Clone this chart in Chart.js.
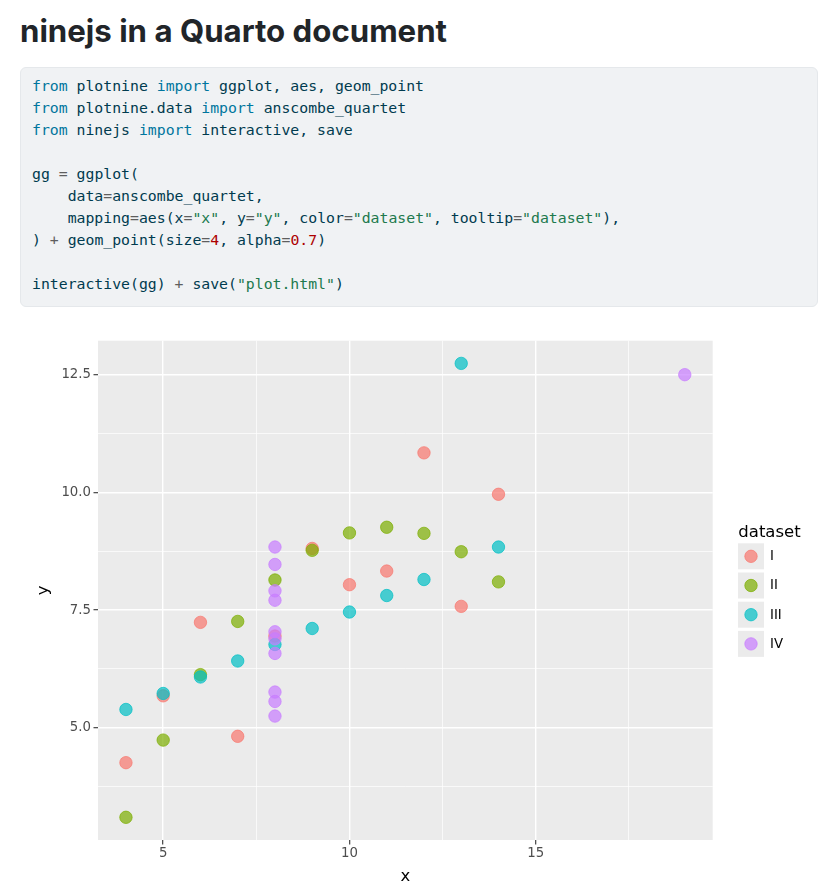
<!DOCTYPE html>
<html>
<head>
<meta charset="utf-8">
<title>ninejs in a Quarto document</title>
<script src="https://cdn.jsdelivr.net/npm/chart.js@4.4.1/dist/chart.umd.min.js"></script>
<style>
  html, body { margin: 0; padding: 0; background: #fff; overflow: hidden; }
  body { width: 839px; height: 894px; position: relative; }
  h1 {
    position: absolute; left: 20px; top: 15.5px; margin: 0;
    font: 700 31.2px/1 Inter, "Noto Sans", sans-serif;
    color: #212529; letter-spacing: 0;
  }
  .code {
    position: absolute; left: 20px; top: 67px; width: 798px; height: 240px;
    box-sizing: border-box; background: #f0f2f4;
    border: 1px solid #e5e8eb; border-radius: 6px;
  }
  .code pre {
    margin: 0; padding: 7px 11px;
    font: 14.8px/22px "DejaVu Sans Mono", monospace; color: #003B4F;
  }
  .kw { color: #00769E; }
  .st { color: #20794D; }
  .dv { color: #AD0000; }
  .op { color: #5E5E5E; }
  #wrap { position: absolute; left: 0; top: 320px; width: 839px; height: 574px; }
</style>
</head>
<body>
<h1>ninejs in a Quarto document</h1>
<div class="code"><pre><span class="kw">from</span> plotnine <span class="kw">import</span> ggplot, aes, geom_point
<span class="kw">from</span> plotnine.data <span class="kw">import</span> anscombe_quartet
<span class="kw">from</span> ninejs <span class="kw">import</span> interactive, save

gg <span class="op">=</span> ggplot(
    data<span class="op">=</span>anscombe_quartet,
    mapping<span class="op">=</span>aes(x<span class="op">=</span><span class="st">"x"</span>, y<span class="op">=</span><span class="st">"y"</span>, color<span class="op">=</span><span class="st">"dataset"</span>, tooltip<span class="op">=</span><span class="st">"dataset"</span>),
) <span class="op">+</span> geom_point(size<span class="op">=</span><span class="dv">4</span>, alpha<span class="op">=</span><span class="dv">0.7</span>)

interactive(gg) <span class="op">+</span> save(<span class="st">"plot.html"</span>)</pre></div>
<div id="wrap"><canvas id="plot"></canvas></div>

<script>
// anscombe quartet, one array per column
const datasetNames = ['I', 'II', 'III', 'IV'];
const xI = [10, 8, 13, 9, 11, 14, 6, 4, 12, 7, 5];
const xII = [10, 8, 13, 9, 11, 14, 6, 4, 12, 7, 5];
const xIII = [10, 8, 13, 9, 11, 14, 6, 4, 12, 7, 5];
const xIV = [8, 8, 8, 8, 8, 8, 8, 19, 8, 8, 8];
const yI = [8.04, 6.95, 7.58, 8.81, 8.33, 9.96, 7.24, 4.26, 10.84, 4.82, 5.68];
const yII = [9.14, 8.14, 8.74, 8.77, 9.26, 8.10, 6.13, 3.10, 9.13, 7.26, 4.74];
const yIII = [7.46, 6.77, 12.74, 7.11, 7.81, 8.84, 6.08, 5.39, 8.15, 6.42, 5.73];
const yIV = [6.58, 5.76, 7.71, 8.84, 8.47, 7.04, 5.25, 12.50, 5.56, 7.91, 6.89];

const xMajor = [5, 10, 15];
const xMajorLabels = ['5', '10', '15'];
const xMinor = [7.5, 12.5, 17.5];
const yMajor = [5, 7.5, 10, 12.5];
const yMajorLabels = ['5.0', '7.5', '10.0', '12.5'];
const yMinor = [3.75, 6.25, 8.75, 11.25];

// ggplot default hues
const hues = [[248, 118, 109], [124, 174, 0], [0, 191, 196], [199, 124, 255]];

const xs = [xI, xII, xIII, xIV];
const ys = [yI, yII, yIII, yIV];

const datasets = datasetNames.map((name, i) => ({
  label: name,
  data: xs[i].map((x, j) => ({ x: x, y: ys[i][j] })),
  backgroundColor: `rgba(${hues[i].join(',')},0.7)`,
  borderColor: `rgba(${hues[i].join(',')},0.7)`,
  borderWidth: 1,
  pointRadius: 6.2,
  pointHoverRadius: 6.2,
  order: datasetNames.length - i   // later datasets on top, like ggplot
}));

Chart.defaults.font.family = '"DejaVu Sans", sans-serif';

const panelBg = {
  id: 'panelBg',
  beforeDraw(chart) {
    const { ctx, chartArea: a } = chart;
    ctx.save();
    ctx.fillStyle = '#EBEBEB';
    ctx.fillRect(a.left, a.top, a.right - a.left, a.bottom - a.top);
    ctx.restore();
  }
};

// ggplot-style legend with grey key boxes
const ggLegend = {
  id: 'ggLegend',
  afterDraw(chart) {
    const ctx = chart.ctx;
    ctx.save();
    ctx.fillStyle = '#000';
    ctx.font = '16.5px "DejaVu Sans"';
    ctx.textBaseline = 'alphabetic';
    ctx.fillText('dataset', 738.3, 216.7);
    chart.data.datasets.forEach((d, i) => {
      const top = 223.3 + i * 29.2;
      ctx.fillStyle = '#EBEBEB';
      ctx.fillRect(738, top, 26, 26);
      ctx.beginPath();
      ctx.arc(751, top + 13, d.pointRadius, 0, Math.PI * 2);
      ctx.fillStyle = d.backgroundColor;
      ctx.fill();
      ctx.lineWidth = d.borderWidth;
      ctx.strokeStyle = d.borderColor;
      ctx.stroke();
      ctx.fillStyle = '#000';
      ctx.font = '13.3px "DejaVu Sans"';
      ctx.textBaseline = 'middle';
      ctx.fillText(d.label, 770, top + 13.5);
    });
    ctx.restore();
  }
};

function gridFor(major) {
  return {
    color: '#fff',
    lineWidth: c => major.includes(c.tick.value) ? 1.4 : 0.7,
    tickColor: c => major.includes(c.tick.value) ? '#333' : 'rgba(0,0,0,0)',
    tickWidth: 1.1,
    tickLength: 4.5
  };
}

new Chart(document.getElementById('plot'), {
  type: 'scatter',
  data: { datasets: datasets },
  plugins: [panelBg, ggLegend],
  options: {
    responsive: true,
    maintainAspectRatio: false,
    animation: false,
    layout: { padding: { top: 20.7, right: 126.3, left: 0, bottom: 0 } },
    plugins: {
      legend: { display: false },
      tooltip: { enabled: true }
    },
    scales: {
      x: {
        type: 'linear',
        min: 3.25,
        max: 19.75,
        afterBuildTicks: s => { s.ticks = xMajor.concat(xMinor).sort((a, b) => a - b).map(v => ({ value: v })); },
        afterFit: s => { s.height = 54; },
        grid: gridFor(xMajor),
        border: { display: false },
        ticks: {
          autoSkip: false, maxRotation: 0, padding: 1,
          color: '#4D4D4D', font: { size: 13.3 },
          callback: v => { const k = xMajor.indexOf(v); return k < 0 ? '' : xMajorLabels[k]; }
        },
        title: {
          display: true, text: 'x', color: '#000',
          font: { size: 16.5 }, padding: { top: 0, bottom: 7 }
        }
      },
      y: {
        type: 'linear',
        min: 2.618,
        max: 13.222,
        afterBuildTicks: s => { s.ticks = yMajor.concat(yMinor).sort((a, b) => a - b).map(v => ({ value: v })); },
        afterFit: s => { s.width = 98; },
        grid: gridFor(yMajor),
        border: { display: false },
        ticks: {
          autoSkip: false, padding: 2.5,
          color: '#4D4D4D', font: { size: 13.3 },
          callback: v => { const k = yMajor.indexOf(v); return k < 0 ? '' : yMajorLabels[k]; }
        },
        title: {
          display: true, text: 'y', color: '#000',
          font: { size: 16.5 }, padding: { top: 34, bottom: 0 }
        }
      }
    }
  }
});
</script>
</body>
</html>
